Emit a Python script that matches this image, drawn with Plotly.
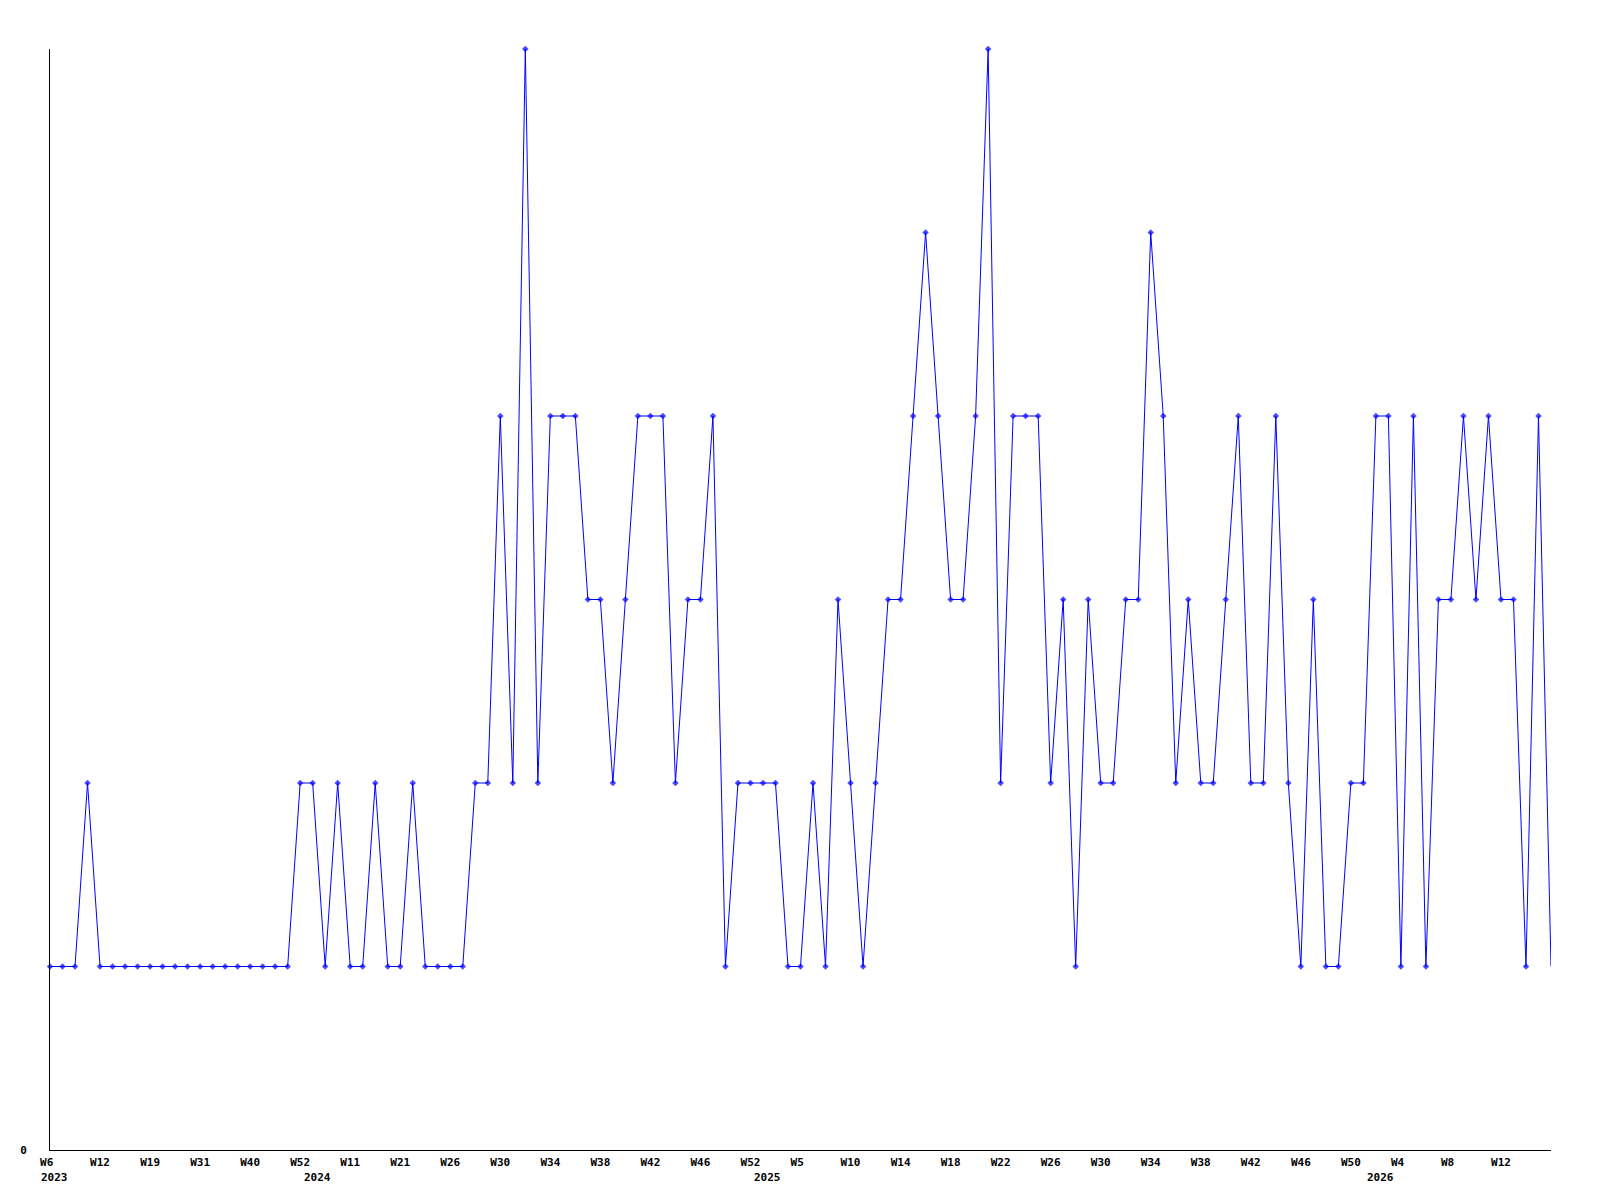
import plotly.graph_objects as go

# categories: ISO-week labels (year, week)
years = [2023] * 21 + [2024] * 36 + [2025] * 49 + [2026] * 15
weeks = [6, 8, 10, 11, 12, 14, 16, 17, 19, 22, 25, 28, 31, 33, 35, 38, 40, 43, 46, 49, 52,
         1, 4, 8, 11, 13, 16, 18, 21, 22, 23, 25, 26, 27, 28, 29, 30, 31, 32, 33, 34, 35,
         36, 37, 38, 39, 40, 41, 42, 43, 44, 45, 46, 47, 48, 50, 52,
         1, 2, 3, 5, 6, 7, 8, 10, 11, 12, 13] + list(range(14, 52)) + \
        [1, 2, 4, 5, 6, 7, 8, 9, 10, 11, 12, 13, 14, 15, 16]

values = [1, 1, 1, 2, 1, 1, 1, 1, 1, 1, 1, 1, 1, 1, 1, 1, 1, 1, 1, 1,
          2, 2, 1, 2, 1, 1, 2, 1, 1, 2, 1, 1, 1, 1, 2, 2, 4, 2, 6, 2,
          4, 4, 4, 3, 3, 2, 3, 4, 4, 4, 2, 3, 3, 4, 1, 2, 2, 2, 2, 1,
          1, 2, 1, 3, 2, 1, 2, 3, 3, 4, 5, 4, 3, 3, 4, 6, 2, 4, 4, 4,
          2, 3, 1, 3, 2, 2, 3, 3, 5, 4, 2, 3, 2, 2, 3, 4, 2, 2, 4, 2,
          1, 3, 1, 1, 2, 2, 4, 4, 1, 4, 1, 3, 3, 4, 3, 4, 3, 3, 1, 4,
          1]

categories = [f"{y}-W{w}" for y, w in zip(years, weeks)]
n = len(categories)

BLUE = "#0000ff"
FONT = dict(family="DejaVu Sans Mono", size=11, color="black", weight="bold")

fig = go.Figure()
fig.add_trace(go.Scatter(
    x=categories, y=values, mode="lines+markers",
    line=dict(color=BLUE, width=1),
    marker=dict(symbol="diamond", size=[5] * (n - 1) + [0], color=BLUE, line=dict(width=0)),
    cliponaxis=False, showlegend=False, hoverinfo="x+y",
))

tickvals = categories[0:n - 1:4]
ticktext = [c.split("-")[1] + ("\u00a0" if len(c.split("-")[1]) == 2 else "") for c in tickvals]

annotations = []
prev_year = None
for c, y in zip(categories, years):
    if y != prev_year:
        annotations.append(dict(
            x=c, xref="x", y=0, yref="paper", text=str(y), showarrow=False,
            xanchor="left", yanchor="middle", xshift=-11, yshift=-27.5, font=FONT,
        ))
        prev_year = y

fig.update_layout(
    width=1600, height=1200,
    margin=dict(l=50, r=49, t=49, b=50),
    paper_bgcolor="white", plot_bgcolor="white",
    annotations=annotations,
    xaxis=dict(
        type="category", categoryorder="array", categoryarray=categories,
        range=[0, n - 1], tickmode="array", tickvals=tickvals, ticktext=ticktext,
        showgrid=False, zeroline=False, showline=True, linecolor="black", linewidth=1,
        ticks="", tickfont=FONT, tickangle=0, ticklabelstandoff=2,
    ),
    yaxis=dict(
        range=[0, 6], tickmode="array", tickvals=[0], ticktext=["0"],
        showgrid=False, zeroline=False, showline=True, linecolor="black", linewidth=1,
        ticks="", tickfont=FONT, ticklabelstandoff=20,
    ),
)

fig.write_html("out.html", config={"displayModeBar": False},
               post_script="document.body.style.margin='0';")
